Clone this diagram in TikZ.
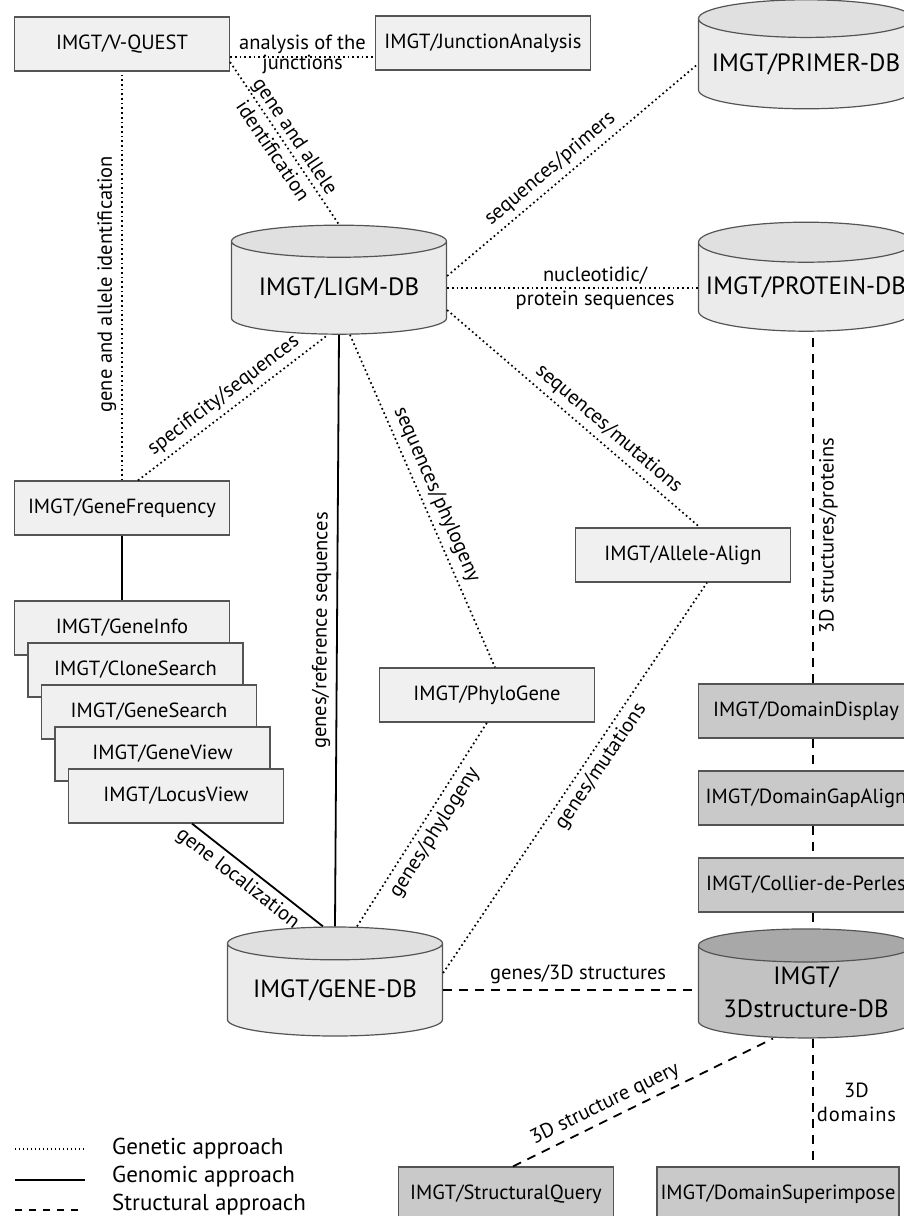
\documentclass[tikz,border=0pt]{standalone}
\usepackage{fontspec}
\setmainfont{PT Sans}
\usepackage{tikz}
\usetikzlibrary{arrows}
\usetikzlibrary{positioning}
\usetikzlibrary{shapes.geometric}
\definecolor{edge}{gray}{0.33}
\definecolor{lightfill}{gray}{0.94}
\definecolor{darkfill}{gray}{0.79}
\definecolor{dbbody}{gray}{0.92}
\definecolor{dbend}{gray}{0.88}
\definecolor{strbody}{gray}{0.76}
\definecolor{strend}{gray}{0.66}
\tikzstyle{every node}+=[inner sep=0pt]
\tikzstyle{tool} = [rectangle, draw=edge, fill=lightfill, line width=1.2pt, minimum width=215pt, minimum height=54pt, font=\fontsize{20.5}{24}\selectfont]
\tikzstyle{stool} = [tool, fill=darkfill]
\tikzstyle{db} = [cylinder, shape border rotate=90, draw=edge, line width=1.2pt, cylinder uses custom fill, cylinder body fill=dbbody, cylinder end fill=dbend, aspect=0.2, minimum width=215pt, minimum height=109pt, font=\fontsize{25}{33}\selectfont, align=center]
\tikzstyle{sdb} = [db, cylinder body fill=strbody, cylinder end fill=strend]
\tikzstyle{genetic} = [draw, line width=1.7pt, dash pattern=on 1.7pt off 3pt]
\tikzstyle{genomic} = [draw, line width=1.8pt]
\tikzstyle{structural} = [draw, line width=1.8pt, dash pattern=on 9pt off 7pt]
\tikzstyle{value} = [font=\fontsize{20.5}{24}\selectfont, inner sep=5pt]

\begin{document}
\begin{tikzpicture}[x=1pt, y=-1pt, node distance=42pt, every text node part/.style={align=center}]
            \useasboundingbox (0,0) rectangle (904,1216);
            \clip (0,0) rectangle (904,1216);
            % Place nodes
            \node [tool] (vquest) at (122,44) {IMGT/V-QUEST};
            \node [tool] (junction) at (483,43) {IMGT/JunctionAnalysis};
            \node [db] (primer) at (806,64) {IMGT/PRIMER-DB};
            \node [db] (ligm) at (339,288) {IMGT/LIGM-DB};
            \node [db] (protein) at (806,287) {IMGT/PROTEIN-DB};
            \node [tool] (genefreq) at (122,508) {IMGT/GeneFrequency};
            \node [tool] (geneinfo) at (122,628) {IMGT/GeneInfo};
            \node [tool, below of=geneinfo, xshift=13.5pt] (clonesearch) {IMGT/CloneSearch};
            \node [tool, below of=clonesearch, xshift=13.5pt] (genesearch) {IMGT/GeneSearch};
            \node [tool, below of=genesearch, xshift=13.5pt] (geneview) {IMGT/GeneView};
            \node [tool, below of=geneview, xshift=13.5pt] (locusview) {IMGT/LocusView};
            \node [tool] (allele) at (683,555) {IMGT/Allele-Align};
            \node [tool] (phylogene) at (487,695) {IMGT/PhyloGene};
            \node [stool] (domdisplay) at (806,711) {IMGT/DomainDisplay};
            \node [stool, below of=domdisplay, node distance=87pt] (domgap) {IMGT/DomainGapAlign};
            \node [stool, below of=domgap, node distance=87pt] (collier) {IMGT/Collier-de-Perles};
            \node [db] (genedb) at (335,990) {IMGT/GENE-DB};
            \node [sdb] (struct3d) at (806,992) {IMGT/\\3Dstructure-DB};
            \node [stool] (structquery) at (506,1194) {IMGT/StructuralQuery};
            \node [stool, minimum width=242pt] (domsuper) at (778,1194) {IMGT/DomainSuperimpose};
            % Legend
            \node [value, anchor=west, inner sep=3pt, font=\fontsize{23}{25}\selectfont] (leggenetic) at (109,1149) {Genetic approach};
            \node [value, anchor=west, inner sep=3pt, font=\fontsize{23}{25}\selectfont] (leggenomic) at (109,1177) {Genomic approach};
            \node [value, anchor=west, inner sep=3pt, font=\fontsize{23}{25}\selectfont] (legstructural) at (109,1205) {Structural approach};
            \path [genetic, line width=1.2pt, dash pattern=on 1.2pt off 2.8pt] ([xshift=-94pt]leggenetic.west) -- ([xshift=-24pt]leggenetic.west);
            \path [genomic, line width=2.2pt] ([xshift=-94pt, yshift=-3pt]leggenomic.west) -- ([xshift=-24pt, yshift=-3pt]leggenomic.west);
            \path [structural, dash pattern=on 7pt off 7pt] ([xshift=-94pt, yshift=-5pt]legstructural.west) -- ([xshift=-24pt, yshift=-5pt]legstructural.west);
            % Draw edges
            \path [genetic] ([yshift=-13pt]vquest.east) -- node [value, yshift=3pt] {analysis of the\\[-4pt]junctions} ([yshift=-13pt]vquest.east -| junction.west);
            \path [genetic] ([yshift=-18pt]vquest.east) -- node [value, sloped] {gene and allele\\[3pt]identification} (ligm.north);
            \path [genetic] (genefreq.north) -- node [value, sloped, above, pos=0.48] {gene and allele identification} (vquest.south);
            \path [genetic] ([xshift=16pt]genefreq.north) -- node [value, sloped, above] {specificity/sequences} ([xshift=-11pt]ligm.south);
            \path [genomic] (genedb.north) -- node [value, sloped, above] {genes/reference sequences} (ligm.south);
            \path [genetic] ([xshift=11pt]ligm.south) -- node [value, sloped, above] {sequences/phylogeny} ([xshift=8pt]phylogene.north);
            \path [genetic] ([xshift=22pt]genedb.north) -- node [value, sloped, below] {genes/phylogeny} (phylogene.south);
            \path [genetic] ([yshift=12pt]ligm.east) -- node [value, sloped, above, pos=0.45] {sequences/primers} (primer.west);
            \path [genetic] (ligm.east) -- node [value, pos=0.59] {nucleotidic/\\protein sequences} (ligm.east -| protein.west);
            \path [genetic] ([yshift=-22pt]ligm.east) -- node [value, sloped, above, pos=0.6] {sequences/mutations} ([xshift=17pt]allele.north);
            \path [genetic] ([yshift=17pt]genedb.east) -- node [value, sloped, below, pos=0.55] {genes/mutations} ([xshift=24pt]allele.south);
            \path [genomic] ([xshift=16pt]locusview.south) -- node [value, sloped, below, pos=0.42] {gene localization} ([xshift=-12pt]genedb.north);
            \path [genomic] (genefreq) -- (geneinfo);
            \path [structural] (genedb.east) -- node [value, above, pos=0.53] {genes/3D structures} (genedb.east -| struct3d.west);
            \path [structural] ([xshift=7pt]structquery.north) -- node [value, sloped, above, pos=0.38] {3D structure query} ([xshift=-33pt]struct3d.south);
            \path [structural] ([xshift=7pt]domdisplay.north) -- node [value, sloped, below, pos=0.42] {3D structures/proteins} ([xshift=7pt]protein.south);
            \path [structural] ([xshift=7pt]domdisplay.south) -- ([xshift=7pt]domgap.north);
            \path [structural] ([xshift=7pt]domgap.south) -- ([xshift=7pt]collier.north);
            \path [structural] ([xshift=7pt]collier.south) -- ([xshift=7pt]struct3d.north);
            \path [structural] ([xshift=7pt]struct3d.south) -- node [value, right, align=left, inner sep=3pt] {3D\\\addfontfeatures{LetterSpace=4}domains} ([xshift=7pt]struct3d.south |- domsuper.north);
          \end{tikzpicture}
\end{document}
